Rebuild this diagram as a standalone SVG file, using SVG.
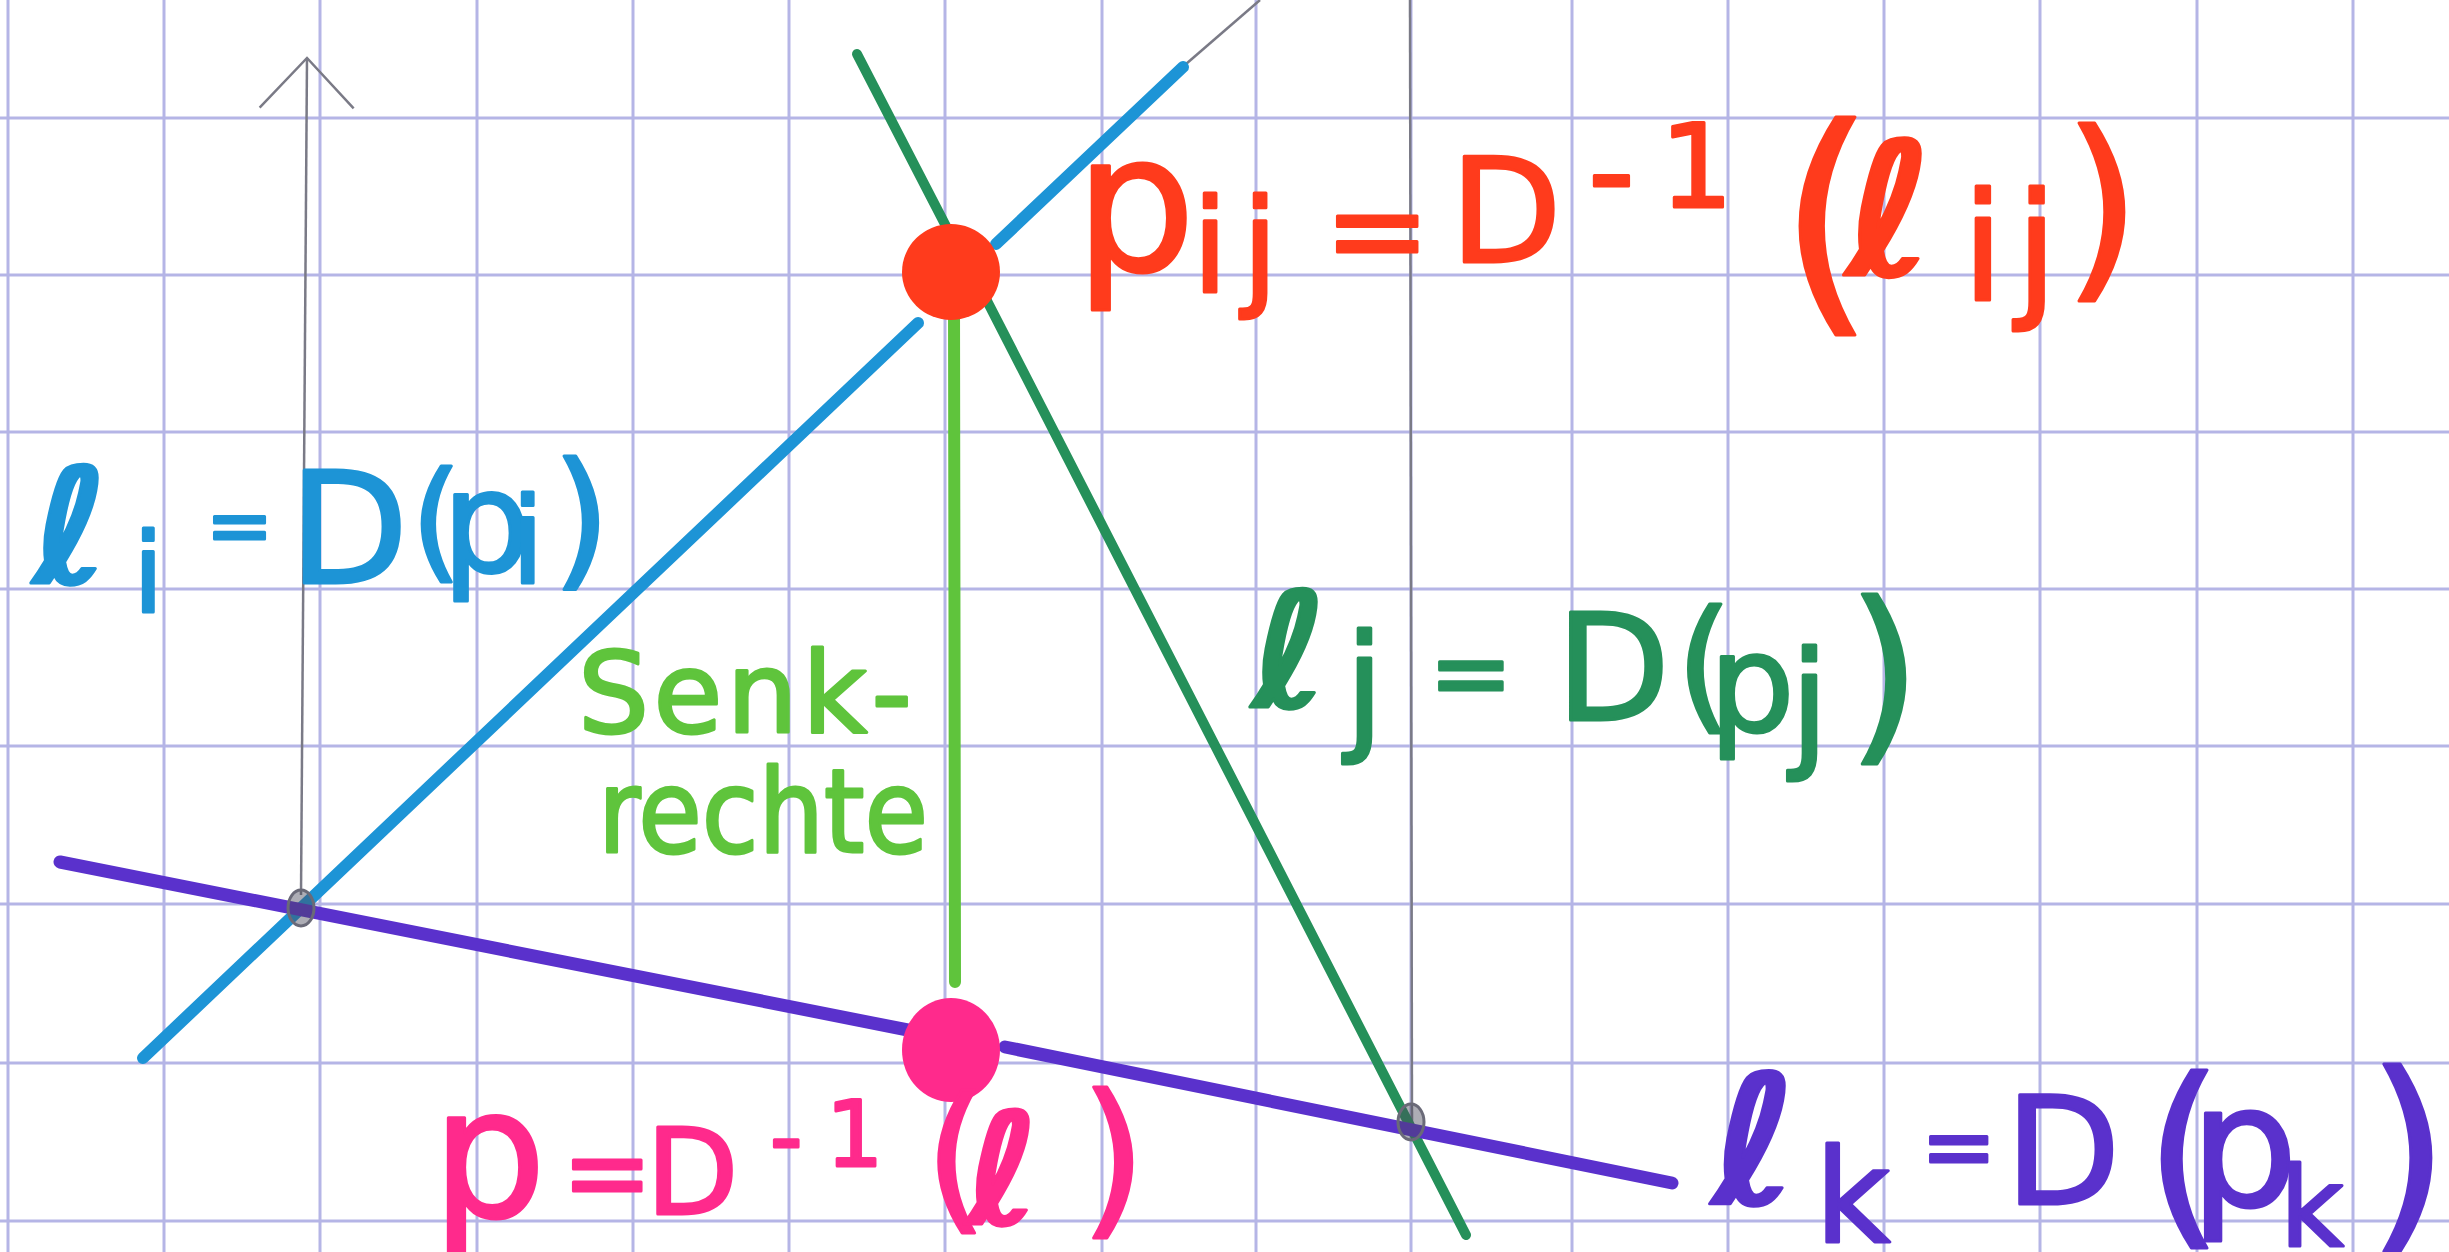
<svg xmlns="http://www.w3.org/2000/svg" width="2449" height="1252" viewBox="0 0 2449 1252">
<style>
.grid{stroke:#b5b5e6;stroke-width:3;fill:none}
.ln{fill:none;stroke-linecap:round}
.lbl{font-family:"DejaVu Sans","Liberation Sans",sans-serif;stroke-width:3;stroke-linejoin:round}
.ell{font-weight:bold}
.blue{stroke:#1d94d6;stroke-width:12}
.dgreen{stroke:#25905a;stroke-width:10}
.lgreen{stroke:#5fc43c;stroke-width:12}
.purple{stroke:#5a31cc;stroke-width:13}
.pencil{stroke:#7a7a86;stroke-width:2.5;fill:none}
.isect{fill:#4a4a5a;fill-opacity:0.45;stroke:#6a6a78;stroke-width:3}
</style>
<defs>
<marker id="openArrow" markerUnits="userSpaceOnUse" markerWidth="120" markerHeight="120" viewBox="0 0 120 120" refX="60" refY="60" orient="auto" overflow="visible">
<path d="M10,13 L60,60 L10,107" fill="none" stroke="#7a7a86" stroke-width="2.5"/>
</marker>
</defs>
<rect width="2449" height="1252" fill="#ffffff"/>
<g id="grid">
<path class="grid" d="M8,0V1252M164,0V1252M320,0V1252M477,0V1252M633,0V1252M789,0V1252M945,0V1252M1102,0V1252M1256,0V1252M1411,0V1252M1572,0V1252M1728,0V1252M1884,0V1252M2040,0V1252M2197,0V1252M2353,0V1252M0,118H2449M0,275H2449M0,432H2449M0,589H2449M0,746H2449M0,904H2449M0,1063H2449M0,1221H2449"/>
</g>
<g id="connectors">
<line id="axis-y" class="pencil" x1="301" y1="895" x2="307" y2="58" marker-end="url(#openArrow)"/>
<line id="axis-x" class="pencil" stroke="#55556a" x1="1410" y1="0" x2="1412" y2="1124"/>
<line id="pencil-ext" class="pencil" stroke="#55556a" x1="1186" y1="64" x2="1260" y2="0"/>
<line id="line-li-a" class="ln blue" x1="143" y1="1058" x2="918" y2="323"/>
<line id="line-li-b" class="ln blue" x1="996" y1="244" x2="1183" y2="67"/>
<line id="line-lj-a" class="ln dgreen" x1="857" y1="54" x2="949" y2="232"/>
<line id="line-lj-b" class="ln dgreen" x1="984" y1="295" x2="1466" y2="1235"/>
<line id="senkrechte" class="ln lgreen" x1="954" y1="300" x2="955" y2="982"/>
<line id="line-lk-a" class="ln purple" x1="60" y1="862" x2="918" y2="1032"/>
<line id="line-lk-b" class="ln purple" x1="1005" y1="1047" x2="1672" y2="1183"/>
</g>
<g id="isect-i-k"><ellipse class="isect" cx="301" cy="908" rx="13" ry="18"/></g>
<g id="isect-j-k"><ellipse class="isect" cx="1411" cy="1122" rx="13" ry="18"/></g>
<g id="point-pij"><ellipse cx="951" cy="272" rx="49" ry="48" fill="#ff3b1c"/></g>
<g id="point-p"><ellipse cx="951" cy="1050" rx="49" ry="52" fill="#ff2a8c"/></g>
<g id="label-li" class="lbl" fill="#1d94d6" stroke="#1d94d6">
<text font-size="150"><tspan class="ell" x="33" y="583" font-size="160">ℓ</tspan><tspan x="133" y="612" font-size="110">i</tspan><tspan x="206" y="553" font-size="80">=</tspan><tspan x="289" y="583" font-size="155">D</tspan><tspan x="411" y="565" font-size="130">(</tspan><tspan x="442" y="572" font-size="140">p</tspan><tspan x="511" y="583" font-size="120">i</tspan><tspan x="552" y="570">)</tspan></text>
</g>
<g id="label-pij" class="lbl" fill="#ff3b1c" stroke="#ff3b1c">
<text font-size="130"><tspan x="1075" y="270" font-size="190">p</tspan><tspan x="1192" y="292" letter-spacing="14">ij</tspan><tspan x="1324" y="274" font-size="127">=</tspan><tspan x="1450" y="262" font-size="145">D</tspan><tspan x="1588" y="216" font-size="130">-</tspan><tspan x="1660" y="207" font-size="115">1</tspan><tspan x="1779" y="303" font-size="245">(</tspan><tspan class="ell" x="1846" y="275" font-size="185">ℓ</tspan><tspan x="1962" y="300" font-size="150" letter-spacing="12">ij</tspan><tspan x="2063" y="275" font-size="200">)</tspan></text>
</g>
<g id="label-lj" class="lbl" fill="#25905a" stroke="#25905a">
<text font-size="140"><tspan class="ell" x="1252" y="707" font-size="160">ℓ</tspan><tspan x="1345" y="735">j</tspan><tspan x="1429" y="707" font-size="100">=</tspan><tspan x="1556" y="720" font-size="148">D</tspan><tspan x="1676" y="714" font-size="145">(</tspan><tspan x="1709" y="731" font-size="135">p</tspan><tspan x="1790" y="752" font-size="140">j</tspan><tspan x="1847" y="739" font-size="190">)</tspan></text>
</g>
<g id="label-senkrechte" class="lbl" fill="#5fc43c" stroke="#5fc43c">
<text x="578" y="732" font-size="112" textLength="334" lengthAdjust="spacing">Senk-</text>
<text x="598" y="852" font-size="116" textLength="330" lengthAdjust="spacingAndGlyphs">rechte</text>
</g>
<g id="label-p" class="lbl" fill="#ff2a8c" stroke="#ff2a8c">
<text font-size="150"><tspan x="432" y="1216" font-size="180">p</tspan><tspan x="562" y="1210" font-size="108">=</tspan><tspan x="646" y="1214" font-size="120">D</tspan><tspan x="770" y="1168" font-size="90">-</tspan><tspan x="826" y="1166" font-size="90">1</tspan><tspan x="925" y="1212" font-size="160">(</tspan><tspan class="ell" x="966" y="1224" font-size="155">ℓ</tspan><tspan x="1080" y="1216" font-size="170">)</tspan></text>
</g>
<g id="label-lk" class="lbl" fill="#5a31cc" stroke="#5a31cc">
<text font-size="150"><tspan class="ell" x="1712" y="1204" font-size="180">ℓ</tspan><tspan x="1815" y="1242" font-size="130">k</tspan><tspan x="1921" y="1178" font-size="90">=</tspan><tspan x="2005" y="1204">D</tspan><tspan x="2145" y="1222" font-size="200">(</tspan><tspan x="2190" y="1206" font-size="170">p</tspan><tspan x="2280" y="1246" font-size="110">k</tspan><tspan x="2367" y="1224" font-size="210">)</tspan></text>
</g>
</svg>
